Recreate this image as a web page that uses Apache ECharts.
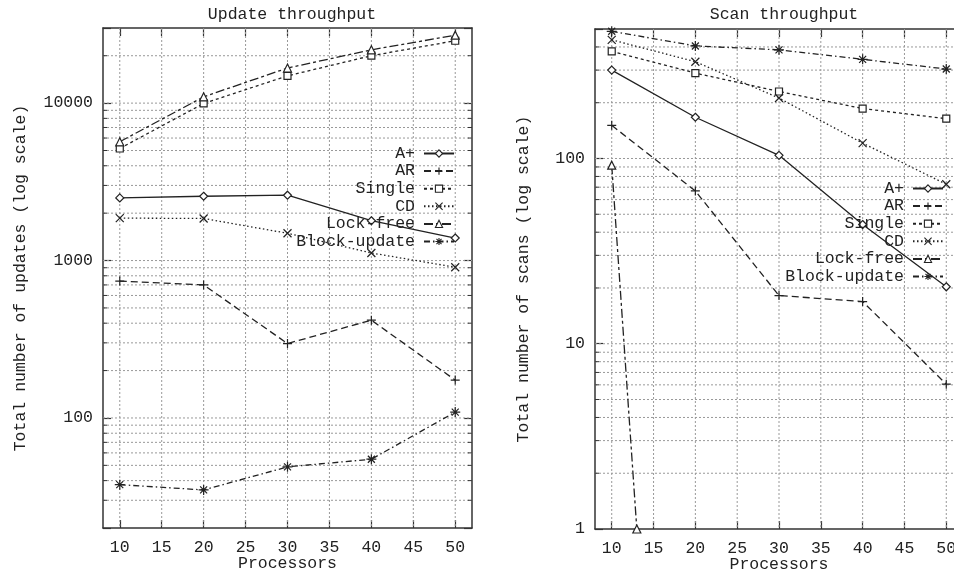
<!DOCTYPE html>
<html>
<head>
<meta charset="utf-8">
<script src="https://cdn.jsdelivr.net/npm/echarts@6/dist/echarts.min.js"></script>
<style>
  html, body { margin: 0; padding: 0; background: #fff; }
  #main { width: 954px; height: 573px; }
</style>
</head>
<body>
<div id="main"></div>
<script>
// processors on the x axis
var processors = [10, 20, 30, 40, 50];
var xTicks = [10, 15, 20, 25, 30, 35, 40, 45, 50];
var names = ['A+', 'AR', 'Single', 'CD', 'Lock-free', 'Block-update'];

// Update throughput (total number of updates)
var updAPlus = [2500, 2560, 2600, 1790, 1390];
var updAR = [740, 700, 297, 418, 174];
var updSingle = [5150, 9950, 14900, 20000, 24900];
var updCD = [1860, 1850, 1490, 1117, 907];
var updLockFree = [5680, 10970, 16700, 21800, 27000];
var updBlock = [37.7, 34.9, 48.9, 54.7, 109];

// Scan throughput (total number of scans)
var scanAPlus = [300, 167, 104, 44, 20.3];
var scanAR = [151, 66.8, 18.2, 16.9, 6.05];
var scanSingle = [379, 289, 230, 186, 164];
var scanCD = [437, 333, 212, 121, 72.6];
var scanLockFreeX = [10, 13];
var scanLockFree = [92, 1];
var scanBlock = [486, 405, 386, 343, 304];

var INK = '#222';
var FONT = 'Liberation Mono';
var FS = 16.5;

var look = {
    'A+':          {symbol: 'diamond', size: 8, dash: 'solid'},
    'AR':          {symbol: 'path://M0,5L10,5M5,0L5,10', size: 9, dash: [7, 4]},
    'Single':      {symbol: 'rect', size: 7, dash: [3, 3]},
    'CD':          {symbol: 'path://M0,0L10,10M0,10L10,0', size: 8, dash: [1.5, 2.5]},
    'Lock-free':   {symbol: 'triangle', size: 8, dash: [9, 3, 3, 3]},
    'Block-update':{symbol: 'path://M0,5L10,5M5,0L5,10M1.5,1.5L8.5,8.5M1.5,8.5L8.5,1.5', size: 10, dash: [6, 3, 1.5, 3]}
};

function pairs(xs, ys) {
    return xs.map(function (x, i) { return [x, ys[i]]; });
}

function lineSeries(name, xs, ys, gi) {
    var s = look[name];
    return {
        type: 'line', name: name, data: pairs(xs, ys),
        xAxisIndex: gi * 2, yAxisIndex: gi * 2,
        symbol: s.symbol, symbolSize: s.size, showAllSymbol: true,
        lineStyle: {color: INK, width: 1.3, type: s.dash},
        itemStyle: {color: '#fff', borderColor: INK, borderWidth: 1.2},
        emphasis: {disabled: true},
        z: 3
    };
}

// grid lines: [x, y, kind]  kind 0 = vertical, 1 = decade, 2 = minor
function gridData(lo, hi, yMid) {
    var out = [];
    xTicks.forEach(function (x) { out.push([x, yMid, 0]); });
    for (var d = 1; d <= 10000; d *= 10) {
        for (var m = 1; m <= 9; m++) {
            var v = d * m;
            if (v > lo && v < hi) out.push([30, v, m === 1 ? 1 : 2]);
        }
    }
    return out;
}

function renderGrid(params, api) {
    var cs = params.coordSys;
    var kind = api.value(2);
    var p = api.coord([api.value(0), api.value(1)]);
    var dot = {stroke: '#999', lineWidth: 1, lineDash: [2, 2]};
    var tick = {stroke: '#333', lineWidth: 1};
    if (kind === 0) {
        return {type: 'line', shape: {x1: p[0], y1: cs.y, x2: p[0], y2: cs.y + cs.height}, style: dot};
    }
    var y = p[1];
    var children = [{type: 'line', shape: {x1: cs.x, y1: y, x2: cs.x + cs.width, y2: y}, style: dot}];
    if (kind === 2) {
        children.push({type: 'line', shape: {x1: cs.x, y1: y, x2: cs.x + 4, y2: y}, style: tick});
        children.push({type: 'line', shape: {x1: cs.x + cs.width - 4, y1: y, x2: cs.x + cs.width, y2: y}, style: tick});
    }
    return {type: 'group', children: children};
}

function decadeLabel(v) {
    var e = Math.log10(v);
    return Math.abs(e - Math.round(e)) < 1e-6 ? String(Math.round(v)) : '';
}

function xAxes(gi) {
    var base = {
        type: 'value', min: 8, max: 52, gridIndex: gi,
        axisLine: {show: true, lineStyle: {color: '#333', width: 1.5}},
        splitLine: {show: false},
        axisTick: {inside: true, length: 8, customValues: xTicks, lineStyle: {color: '#333', width: 1.2}}
    };
    var bottom = Object.assign({}, base, {
        position: 'bottom',
        name: 'Processors', nameLocation: 'middle', nameGap: 27, nameMoveOverlap: false,
        nameTextStyle: {fontFamily: FONT, fontSize: FS, color: INK},
        axisLabel: {customValues: xTicks, margin: 11, fontFamily: FONT, fontSize: FS, color: INK}
    });
    var top = Object.assign({}, base, {position: 'top', axisLabel: {show: false}});
    return [bottom, top];
}

function yAxes(gi, lo, hi, title, gap) {
    var base = {
        type: 'log', min: lo, max: hi, gridIndex: gi,
        axisLine: {show: true, lineStyle: {color: '#333', width: 1.5}},
        splitLine: {show: false}, minorTick: {show: false},
        axisTick: {inside: true, length: 8, lineStyle: {color: '#333', width: 1.2}}
    };
    var left = Object.assign({}, base, {
        position: 'left',
        name: title, nameLocation: 'middle', nameGap: gap, nameMoveOverlap: false,
        nameTextStyle: {fontFamily: FONT, fontSize: FS, color: INK},
        axisLabel: {formatter: decadeLabel, margin: 10, fontFamily: FONT, fontSize: FS, color: INK}
    });
    var right = Object.assign({}, base, {position: 'right', axisLabel: {show: false}});
    return [left, right];
}

var myChart = echarts.init(document.getElementById('main'));

var series = [
    {type: 'custom', xAxisIndex: 0, yAxisIndex: 0, data: gridData(20, 30000, 100), renderItem: renderGrid, silent: true, z: 1},
    {type: 'custom', xAxisIndex: 2, yAxisIndex: 2, data: gridData(1, 500, 10), renderItem: renderGrid, silent: true, z: 1},
    lineSeries('A+', processors, updAPlus, 0),
    lineSeries('AR', processors, updAR, 0),
    lineSeries('Single', processors, updSingle, 0),
    lineSeries('CD', processors, updCD, 0),
    lineSeries('Lock-free', processors, updLockFree, 0),
    lineSeries('Block-update', processors, updBlock, 0),
    lineSeries('A+', processors, scanAPlus, 1),
    lineSeries('AR', processors, scanAR, 1),
    lineSeries('Single', processors, scanSingle, 1),
    lineSeries('CD', processors, scanCD, 1),
    lineSeries('Lock-free', scanLockFreeX, scanLockFree, 1),
    lineSeries('Block-update', processors, scanBlock, 1)
];

var legendBase = {
    orient: 'vertical', align: 'right', data: names,
    itemWidth: 30, itemHeight: 9, itemGap: 0.6, selectedMode: false,
    itemStyle: {color: '#fff', borderColor: INK, borderWidth: 1.1},
    textStyle: {fontFamily: FONT, fontSize: FS, lineHeight: 16, color: INK, padding: [0, 4, 0, 0]}
};

var option = {
    backgroundColor: '#fff',
    animation: false,
    textStyle: {fontFamily: FONT},
    title: [
        {text: 'Update throughput', left: 287, top: 1, textAlign: 'center',
         textStyle: {fontFamily: FONT, fontSize: FS, fontWeight: 'normal', color: INK}},
        {text: 'Scan throughput', left: 779, top: 1, textAlign: 'center',
         textStyle: {fontFamily: FONT, fontSize: FS, fontWeight: 'normal', color: INK}}
    ],
    legend: [
        Object.assign({}, legendBase, {right: 494, top: 140}),
        Object.assign({}, legendBase, {right: 5, top: 175})
    ],
    grid: [
        {left: 103, top: 28, right: 482, bottom: 45, outerBoundsMode: 'none'},
        {left: 595, top: 29, right: -9, bottom: 44, outerBoundsMode: 'none'}
    ],
    xAxis: xAxes(0).concat(xAxes(1)),
    yAxis: yAxes(0, 20, 30000, 'Total number of updates (log scale)', 74)
        .concat(yAxes(1, 1, 500, 'Total number of scans (log scale)', 63)),
    series: series
};

myChart.setOption(option);
</script>
</body>
</html>
